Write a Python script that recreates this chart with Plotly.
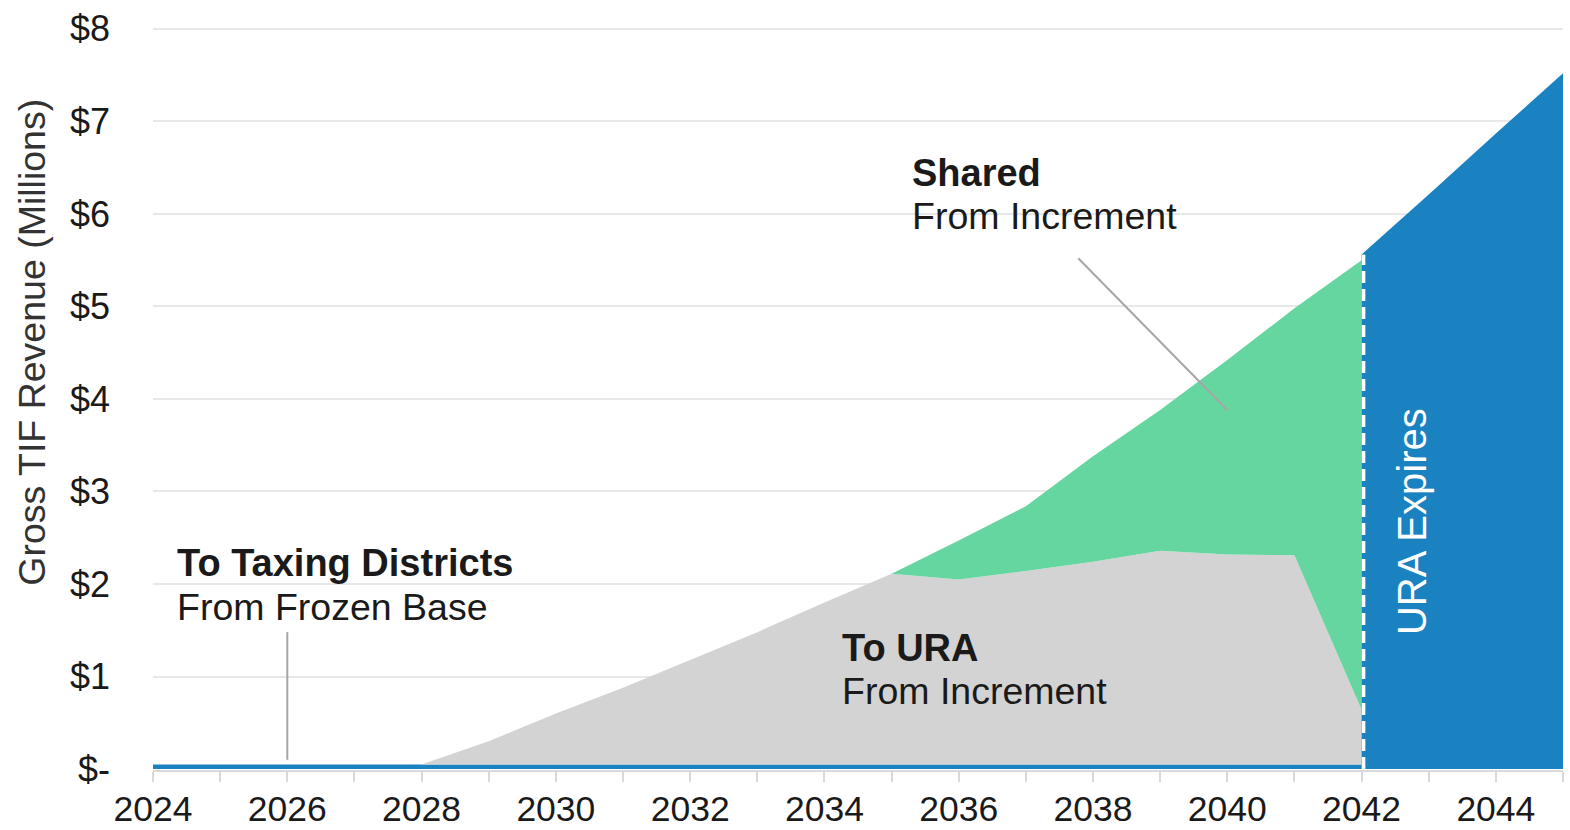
import plotly.graph_objects as go

# ---- data (millions of dollars) ----
years = list(range(2024, 2043))
frozen_base = [0.05] * 19
to_ura = [0, 0, 0, 0, 0, 0.25, 0.55, 0.83, 1.13, 1.43, 1.75, 2.06, 2.00, 2.09, 2.19, 2.31, 2.27, 2.26, 0.59]
shared = [0, 0, 0, 0, 0, 0, 0, 0, 0, 0, 0, 0, 0.42, 0.70, 1.14, 1.52, 2.10, 2.67, 4.86]

post_years = [2042, 2043, 2044, 2045]
post_total = [5.56, 6.21, 6.87, 7.52]

y_ticks = [0, 1, 2, 3, 4, 5, 6, 7, 8]
y_labels = ["$-", "$1", "$2", "$3", "$4", "$5", "$6", "$7", "$8"]
x_ticks = list(range(2024, 2046))
x_labels = [str(y) if (y % 2 == 0 and y <= 2044) else "" for y in x_ticks]

BLUE = "#1b82c2"
GREEN = "#66d6a0"
GRAY = "#d3d3d3"
TXT = "#1a1a1a"
FONT = "Arial, Liberation Sans, sans-serif"

fig = go.Figure()
fig.add_trace(go.Scatter(x=years, y=frozen_base, stackgroup="s", mode="none",
                         fillcolor=BLUE, line=dict(width=0), hoverinfo="skip"))
fig.add_trace(go.Scatter(x=years, y=to_ura, stackgroup="s", mode="none",
                         fillcolor=GRAY, line=dict(width=0), hoverinfo="skip"))
fig.add_trace(go.Scatter(x=years, y=shared, stackgroup="s", mode="none",
                         fillcolor=GREEN, line=dict(width=0), hoverinfo="skip"))
fig.add_trace(go.Scatter(x=post_years, y=post_total, fill="tozeroy", mode="none",
                         fillcolor=BLUE, line=dict(width=0), hoverinfo="skip"))

# dashed white expiry line
fig.add_shape(type="line", x0=2042.03, x1=2042.03, y0=0, y1=post_total[0],
              line=dict(color="white", width=3.5, dash="12px,6px"), layer="above")

# leader lines
fig.add_shape(type="line", x0=2037.78, y0=5.52, x1=2040.0, y1=3.88,
              line=dict(color="#a6a6a6", width=2))
fig.add_shape(type="line", x0=2026, y0=1.48, x1=2026, y1=0.10,
              line=dict(color="#a6a6a6", width=2))

def label(x, y, text, bold=False, size=37.5, color=TXT):
    fig.add_annotation(x=x, y=y, xref="x", yref="y", text=f"<b>{text}</b>" if bold else text,
                       showarrow=False, xanchor="left", yanchor="middle",
                       font=dict(family=FONT, size=size, color=color))

label(2035.27, 6.44, "Shared", bold=True, size=38)
label(2035.27, 5.98, "From Increment")
label(2024.33, 2.23, "To Taxing Districts", bold=True, size=38)
label(2024.33, 1.75, "From Frozen Base")
label(2034.23, 1.31, "To URA", bold=True, size=38)
label(2034.23, 0.84, "From Increment")

fig.add_annotation(x=2042.75, y=2.68, xref="x", yref="y", text="URA Expires",
                   showarrow=False, textangle=-90, xanchor="center", yanchor="middle",
                   font=dict(family=FONT, size=40, color="white"))

# y-axis title
fig.add_annotation(x=0, y=0.575, xref="paper", yref="paper", xshift=-121,
                   text="Gross TIF Revenue (Millions)", showarrow=False, textangle=-90,
                   xanchor="center", yanchor="middle",
                   font=dict(family=FONT, size=37.5, color="#333333"))

fig.update_layout(
    width=1570, height=830,
    margin=dict(l=153, r=7, t=27, b=60, autoexpand=False),
    paper_bgcolor="white", plot_bgcolor="white",
    showlegend=False,
    font=dict(family=FONT, color=TXT),
    xaxis=dict(range=[2024, 2045], tickvals=x_ticks, ticktext=x_labels,
               ticks="outside", ticklen=10, tickwidth=2, tickcolor="#d9d9d9",
               showline=True, linecolor="#d9d9d9", linewidth=2,
               showgrid=False, zeroline=False, automargin=False,
               ticklabelstandoff=-4,
               tickfont=dict(family=FONT, size=35.5, color=TXT)),
    yaxis=dict(range=[-0.01, 8.02], tickvals=y_ticks, ticktext=y_labels,
               showgrid=True, gridcolor="#e8e8e8", gridwidth=2,
               zeroline=False, showline=False, ticks="", automargin=False,
               ticklabelstandoff=42,
               tickfont=dict(family=FONT, size=36, color=TXT)),
)

fig.write_html("out.html")
